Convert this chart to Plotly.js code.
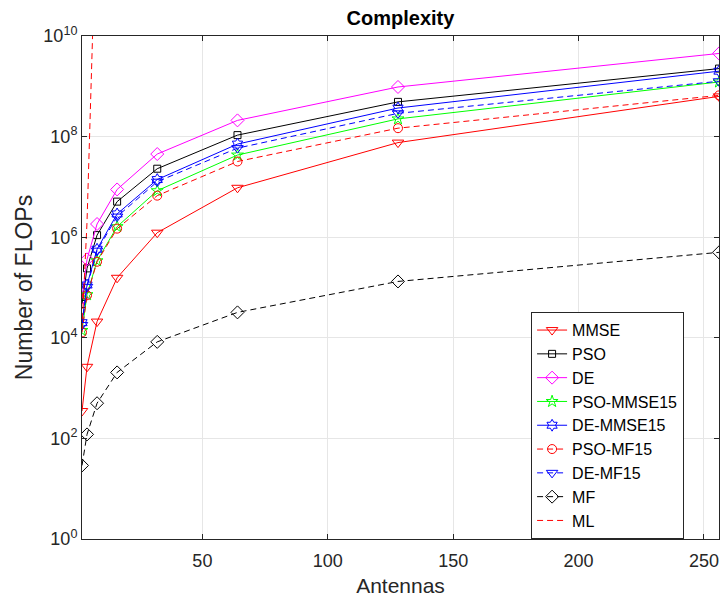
<!DOCTYPE html>
<html>
<head>
<meta charset="utf-8">
<script src="https://cdn.plot.ly/plotly-3.0.1.min.js"></script>
<style>html,body{margin:0;padding:0;background:#fff;}#chart{width:721px;height:601px;}</style>
</head>
<body>
<div id="chart"></div>
<script>
const antennas = [2, 4, 8, 16, 32, 64, 128, 256];
const mmse = [350, 2650, 21000, 156000, 1.23e6, 9.6e6, 7.6e7, 6.3e8];
const pso = [47000, 240000, 1.1e6, 5.1e6, 2.3e7, 1.07e8, 4.9e8, 2.25e9];
const de = [63000, 363000, 1.83e6, 8.9e6, 4.5e7, 2.1e8, 9.7e8, 4.5e9];
const psoMmse15 = [14000, 72000, 340000, 1.62e6, 8.4e6, 4.3e7, 2.25e8, 1.22e9];
const deMmse15 = [20000, 112000, 576000, 2.9e6, 1.4e7, 7.1e7, 3.7e8, 2.0e9];
const psoMf15 = [12800, 70000, 325000, 1.48e6, 6.7e6, 3.2e7, 1.47e8, 6.6e8];
const deMf15 = [18000, 103000, 540000, 2.57e6, 1.27e7, 5.9e7, 2.9e8, 1.26e9];
const mf = [29, 120, 500, 2050, 8300, 32000, 132000, 500000];
const mlAntennas = [2, 4, 8];
const ml = [1.5e4, 2.0e6, 1.0e13];

const xTicks = [50, 100, 150, 200, 250];
const yTickVals = [1, 1e2, 1e4, 1e6, 1e8, 1e10];
const yTickText = ['10<sup>0</sup>', '10<sup>2</sup>', '10<sup>4</sup>', '10<sup>6</sup>', '10<sup>8</sup>', '10<sup>10</sup>'];

function tr(name, x, y, color, symbol, dash, size) {
  const t = {
    type: 'scatter', mode: symbol ? 'lines+markers' : 'lines', name: name, x: x, y: y,
    line: {color: color, width: 1, dash: dash}
  };
  if (symbol) {
    t.marker = {symbol: symbol, size: size, color: color, line: {color: color, width: 1}};
  }
  return t;
}

const data = [
  tr('MMSE', antennas, mmse, '#ff0000', 'triangle-down-open', 'solid', 10),
  tr('PSO', antennas, pso, '#000000', 'square-open', 'solid', 7),
  tr('DE', antennas, de, '#ff00ff', 'diamond-open', 'solid', 10),
  tr('PSO-MMSE15', antennas, psoMmse15, '#00ff00', 'star-open', 'solid', 9),
  tr('DE-MMSE15', antennas, deMmse15, '#0000ff', 'hexagram-open', 'solid', 9),
  tr('PSO-MF15', antennas, psoMf15, '#ff0000', 'circle-open', '6px,4px', 9),
  tr('DE-MF15', antennas, deMf15, '#0000ff', 'triangle-down-open', '6px,4px', 10),
  tr('MF', antennas, mf, '#000000', 'diamond-open', '6px,4px', 10),
  tr('ML', mlAntennas, ml, '#ff0000', null, '6px,4px', 0)
];

const layout = {
  width: 721, height: 601,
  margin: {l: 82, r: 2, t: 36, b: 62},
  paper_bgcolor: '#ffffff', plot_bgcolor: '#ffffff',
  font: {family: 'Liberation Sans, Arial, sans-serif', color: '#262626', size: 17},
  title: {text: '<b>Complexity</b>', x: 0.5, xref: 'paper', y: 0.982, yanchor: 'top', font: {size: 20, color: '#000'}},
  xaxis: {
    range: [2, 256], tickvals: xTicks, ticks: 'inside', ticklen: 5, tickcolor: '#262626',
    showline: true, linecolor: '#262626', linewidth: 1, mirror: 'allticks',
    showgrid: true, gridcolor: '#e6e6e6', zeroline: false,
    tickfont: {size: 18, color: '#262626'}, ticklabelstandoff: 5,
    title: {text: 'Antennas', font: {size: 21, color: '#262626'}, standoff: 8}
  },
  yaxis: {
    type: 'log', range: [0, 10], tickvals: yTickVals, ticktext: yTickText,
    ticks: 'inside', ticklen: 5, tickcolor: '#262626',
    showline: true, linecolor: '#262626', linewidth: 1, mirror: 'allticks',
    showgrid: true, gridcolor: '#e6e6e6', zeroline: false,
    tickfont: {size: 18, color: '#262626'},
    title: {text: 'Number of FLOPs', font: {size: 23, color: '#262626'}, standoff: 4}
  },
  legend: {
    x: 0.705, y: 0.451, xanchor: 'left', yanchor: 'top',
    bgcolor: '#ffffff', bordercolor: '#262626', borderwidth: 1,
    font: {size: 16, color: '#000'}, tracegroupgap: 0, itemwidth: 30
  },
  showlegend: true
};

Plotly.newPlot('chart', data, layout, {displayModeBar: false, staticPlot: true});
</script>
</body>
</html>
